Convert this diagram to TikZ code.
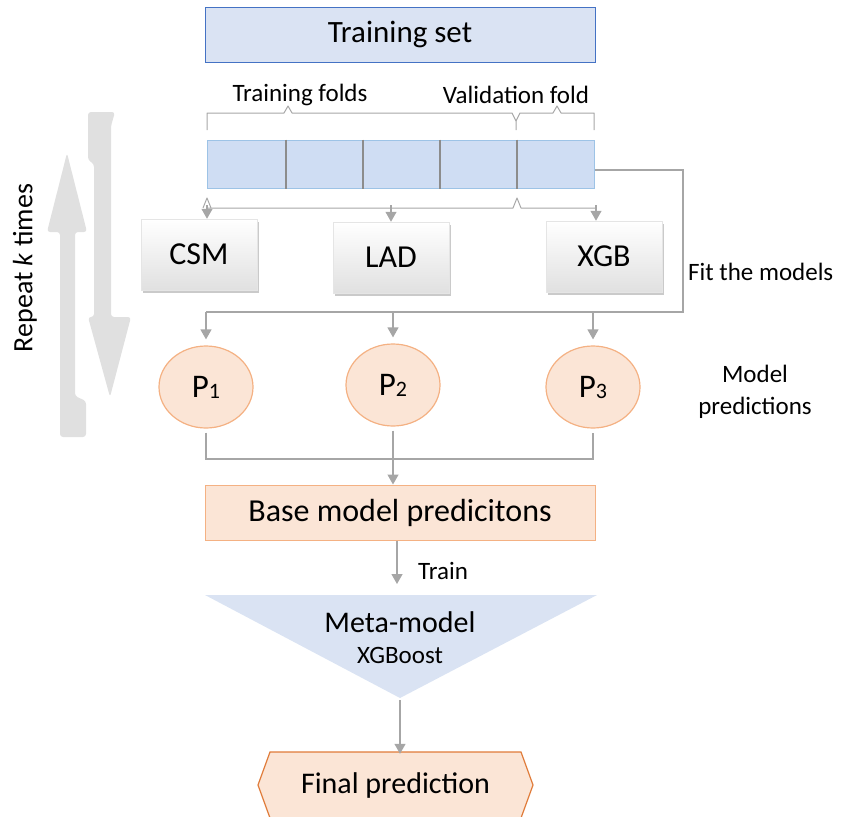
\documentclass[tikz,border=0pt]{standalone}
\usepackage{fontspec}
\setmainfont{Carlito}
\usetikzlibrary{arrows.meta,shadows,shapes.geometric}
\definecolor{lnc}{HTML}{A6A6A6}
\definecolor{tsfill}{HTML}{DAE3F3}
\definecolor{tsdraw}{HTML}{4472C4}
\definecolor{foldfill}{HTML}{CFDDF3}
\definecolor{folddraw}{HTML}{9DC3E6}
\definecolor{divc}{HTML}{8C8C8C}
\definecolor{orfill}{HTML}{FBE5D6}
\definecolor{ordraw}{HTML}{F4B183}
\definecolor{hexdraw}{HTML}{E07B39}
\definecolor{metafill}{HTML}{DAE3F3}
\definecolor{bigarrow}{HTML}{E0E0E0}
\tikzset{
  conn/.style={draw=lnc, line width=1.3pt},
  thin conn/.style={draw=lnc, line width=1pt},
  arr/.style={conn, -{Triangle[length=10pt,width=11pt]}},
  tsbox/.style={draw=tsdraw, fill=tsfill, line width=1pt, minimum width=390pt, minimum height=54pt, inner sep=0pt, font=\fontsize{31}{31}\selectfont},
  foldbox/.style={draw=folddraw, fill=foldfill, line width=1pt, minimum width=387pt, minimum height=48pt, inner sep=0pt},
  divider/.style={draw=divc, line width=2pt},
  lab/.style={inner sep=0pt, font=\fontsize{25}{25}\selectfont},
  model/.style={top color=white, bottom color=black!12, draw=black!10, line width=0.5pt, minimum width=116pt, minimum height=71pt, inner sep=0pt, drop shadow={shadow xshift=2pt, shadow yshift=-3pt, opacity=0.35, fill=black!60}, font=\fontsize{32}{32}\selectfont},
  pred/.style={ellipse, draw=ordraw, fill=orfill, line width=1.2pt, minimum width=94pt, minimum height=82pt, inner sep=0pt, font=\fontsize{33}{33}\selectfont},
  basebox/.style={draw=ordraw, fill=orfill, line width=1pt, minimum width=390pt, minimum height=55pt, inner sep=0pt, font=\fontsize{32}{32}\selectfont},
}
\newcommand{\subd}[1]{\raisebox{-1pt}{\fontsize{22}{22}\selectfont #1}}
\begin{document}
\begin{tikzpicture}[x=1pt,y=-1pt]
\useasboundingbox (0,0) rectangle (842,816);

% repeat arrows
\fill[bigarrow, rounded corners=3pt] (67,153) -- (87,232) -- (75,232) -- (75,396) -- (86,401) -- (86,437) -- (60,437) -- (60,232) -- (47,232) -- cycle;
\fill[bigarrow, rounded corners=3pt] (110,397) -- (131,317) -- (111,317) -- (111,126) -- (115,112) -- (88,112) -- (88,160) -- (94,164) -- (94,317) -- (88,317) -- cycle;
\node[rotate=90, inner sep=0pt, font=\fontsize{28}{28}\selectfont] (rep) at (25,268) {Repeat \textit{k} times};

% training set
\node[tsbox] (ts) at (400,35) {Training set};

% labels and braces
\node[lab] (tfl) at (300,95) {Training folds};
\node[lab] (vfl) at (516,95) {Validation fold};
\draw[thin conn, line join=round] (207,130) -- (207,113) -- (284,113) -- (288,106) -- (292,113) -- (512,113) -- (516,121) -- (516,130);
\draw[thin conn, line join=round] (516,121) -- (520,113) -- (553,113) -- (557,106) -- (561,113) -- (594,113) -- (594,130);

% fold bar
\node[foldbox] (bar) at (400.5,164) {};
\foreach \x in {79,156,233,310}
  \draw[divider] ([xshift=\x pt]bar.north west) -- ([xshift=\x pt]bar.south west);

% model boxes
\node[model] (csm) at (199,254.5) {CSM};
\node[model] (lad) at (391,257.5) {LAD};
\node[model] (xgb) at (604,256.5) {XGB};

% lower brace to models
\coordinate (b1) at (207,208);
\coordinate (b2) at (391,208);
\coordinate (b3) at (596,208);
\draw[thin conn, line join=round] (203,208) -- (207,198) -- (211,208);
\draw[thin conn, line join=round] (b1) -- (513,208) -- (517,198) -- (521,208) -- (b3);
\draw[arr] ([yshift=3pt]b1) -- (b1 |- csm.north);
\draw[arr] ([yshift=3pt]b2) -- (b2 |- lad.north);
\draw[arr] ([yshift=3pt]b3) -- (b3 |- xgb.north);

\node[lab, anchor=west] (fit) at (688,272) {Fit the models};

% predictions
\node[pred] (p1) at (206,387) {P\subd{1}};
\node[pred] (p2) at (393,385) {P\subd{2}};
\node[pred] (p3) at (593,387) {P\subd{3}};
\node[lab, align=center, font=\fontsize{25}{32}\selectfont] (mp) at (755,392) {Model\\predictions};

\coordinate (r1) at (683,312);
\draw[conn] ([yshift=-6pt]bar.east) -| (r1) -- (r1 -| p1);
\draw[arr] (p1 |- r1) -- ([yshift=6pt]p1.north);
\draw[arr] (p2 |- r1) -- ([yshift=6pt]p2.north);
\draw[arr] (p3 |- r1) -- ([yshift=6pt]p3.north);

% base predictions
\node[basebox] (base) at (400,512.5) {Base model predicitons};
\coordinate (j) at (393,459);
\draw[conn] ([yshift=-4pt]p1.south) -- (p1 |- j) -- (p3 |- j) -- ([yshift=-4pt]p3.south);
\draw[arr] ([yshift=-4pt]p2.south) -- (p2 |- base.north);

% meta model
\fill[metafill] (205,595) -- (597,595) -- (400,698) -- cycle;
\coordinate (apex) at (400,698);
\node[inner sep=0pt, font=\fontsize{30}{30}\selectfont] (meta) at (400,622) {Meta-model};
\node[inner sep=0pt, font=\fontsize{25}{25}\selectfont] (xgbm) at (400,655) {XGBoost};
\coordinate (metatop) at (397,584);
\draw[arr] (base.south -| metatop) -- (metatop);
\node[lab, anchor=west] (train) at (418,571) {Train};

% final prediction
\draw[draw=hexdraw, fill=orfill, line width=1.2pt] (258,785) -- (270,752) -- (521,752) -- (533,785) -- (521,818) -- (270,818) -- cycle;
\node[inner sep=0pt, minimum width=275pt, minimum height=66pt, font=\fontsize{30}{30}\selectfont] (final) at (395.5,785) {Final prediction};
\draw[arr] ([yshift=-2pt]apex) -- ([yshift=-2pt]apex |- final.north);
\end{tikzpicture}
\end{document}
